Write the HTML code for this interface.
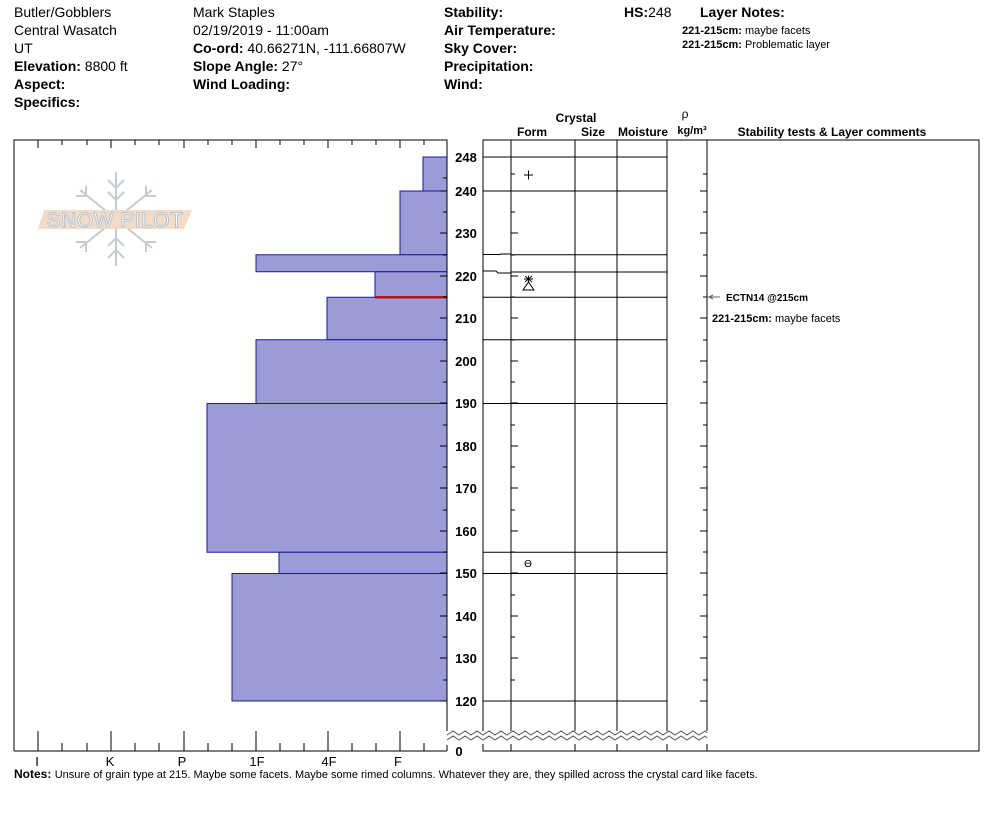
<!DOCTYPE html>
<html><head><meta charset="utf-8"><style>
body{margin:0;background:#fff;}
svg{display:block;font-family:"Liberation Sans",Arial,sans-serif;}
.b{font-weight:bold}
</style></head><body>
<svg width="994" height="840" viewBox="0 0 994 840" xmlns="http://www.w3.org/2000/svg">
<g font-size="14" fill="#000">
<text x="14" y="17">Butler/Gobblers</text>
<text x="14" y="35">Central Wasatch</text>
<text x="14" y="53">UT</text>
<text x="14" y="71"><tspan class="b">Elevation:</tspan> 8800 ft</text>
<text x="14" y="89" class="b">Aspect:</text>
<text x="14" y="107" class="b">Specifics:</text>
<text x="193" y="17">Mark Staples</text>
<text x="193" y="35">02/19/2019 - 11:00am</text>
<text x="193" y="53"><tspan class="b">Co-ord:</tspan> 40.66271N, -111.66807W</text>
<text x="193" y="71"><tspan class="b">Slope Angle:</tspan> 27°</text>
<text x="193" y="89" class="b">Wind Loading:</text>
<text x="444" y="17" class="b">Stability:</text>
<text x="444" y="35" class="b">Air Temperature:</text>
<text x="444" y="53" class="b">Sky Cover:</text>
<text x="444" y="71" class="b">Precipitation:</text>
<text x="444" y="89" class="b">Wind:</text>
<text x="624" y="17"><tspan class="b">HS:</tspan>248</text>
<text x="700" y="17" class="b">Layer Notes:</text>
</g>
<g font-size="11">
<text x="682" y="34"><tspan class="b">221-215cm:</tspan> maybe facets</text>
<text x="682" y="48"><tspan class="b">221-215cm:</tspan> Problematic layer</text>
</g>
<g font-size="12" font-weight="bold">
<text x="576" y="122" text-anchor="middle">Crystal</text>
<text x="532" y="136" text-anchor="middle">Form</text>
<text x="593" y="136" text-anchor="middle">Size</text>
<text x="643" y="136" text-anchor="middle">Moisture</text>
<text x="685" y="118" text-anchor="middle" font-weight="normal">ρ</text>
<text x="692" y="134" text-anchor="middle" font-size="11">kg/m³</text>
<text x="832" y="136" text-anchor="middle">Stability tests &amp; Layer comments</text>
</g>
<!-- logo -->
<g stroke="#c3ccd4" stroke-width="2" fill="none">
<line x1="116" y1="172" x2="116" y2="266"/>
<line x1="80" y1="190" x2="152" y2="248"/>
<line x1="152" y1="190" x2="80" y2="248"/>
<path d="M108 180 L116 188 L124 180 M108 192 L116 200 L124 192 M108 258 L116 250 L124 258 M108 246 L116 238 L124 246"/>
<path d="M86 196 l0 -10 M86 196 l-10 0 M146 196 l0 -10 M146 196 l10 0 M86 242 l0 10 M86 242 l-10 0 M146 242 l0 10 M146 242 l10 0"/>
</g>
<polygon points="44,210 192,210 184,229 38,229" fill="#f2dcc8"/>
<text x="115" y="227" text-anchor="middle" font-size="21" fill="#fff" stroke="#b8c2cc" stroke-width="1" letter-spacing="0.5">SNOW PILOT</text>
<!-- hardness bars -->
<g fill="#9b9bd6" stroke="#1a1aa0" stroke-width="1">
<rect x="423" y="157" width="24" height="34"/>
<rect x="400" y="191" width="47" height="63.75"/>
<rect x="256" y="254.75" width="191" height="17"/>
<rect x="375" y="271.75" width="72" height="25.5"/>
<rect x="327" y="297.25" width="120" height="42.5"/>
<rect x="256" y="339.75" width="191" height="63.75"/>
<rect x="207" y="403.5" width="240" height="148.75"/>
<rect x="279" y="552.25" width="168" height="21.25"/>
<rect x="232" y="573.5" width="215" height="127.5"/>
</g>
<line x1="375" y1="297.25" x2="447" y2="297.25" stroke="#b01818" stroke-width="2.5"/>
<!-- left box -->
<g stroke="#000" stroke-width="1" fill="none">
<path d="M14 751 L14 140 L447 140 L447 733 M440 751 L14 751 M447 745 L447 751"/>
<line x1="440" y1="751" x2="447" y2="751"/>
<path d="M38 140v8 M62 140v5 M87 140v5 M111 140v8 M135 140v5 M159 140v5 M184 140v8 M208 140v5 M232 140v5 M256 140v8 M280 140v5 M304 140v5 M328 140v8 M352 140v5 M376 140v5 M400 140v8 M424 140v5"/>
<path d="M38 751v-20 M62 751v-8 M87 751v-8 M111 751v-20 M135 751v-8 M159 751v-8 M184 751v-20 M208 751v-8 M232 751v-8 M256 751v-20 M280 751v-8 M304 751v-8 M328 751v-20 M352 751v-8 M376 751v-8 M400 751v-20 M424 751v-8"/>
<path d="M447 178h-4 M447 191h-7 M447 212h-4 M447 233h-7 M447 255h-4 M447 276h-7 M447 297h-4 M447 318h-7 M447 340h-4 M447 361h-7 M447 382h-4 M447 403h-7 M447 425h-4 M447 446h-7 M447 467h-4 M447 488h-7 M447 510h-4 M447 531h-7 M447 552h-4 M447 573h-7 M447 595h-4 M447 616h-7 M447 637h-4 M447 658h-7 M447 680h-4 M447 701h-7"/>
</g>
<g font-size="13" text-anchor="middle">
<text x="37" y="766">I</text><text x="110" y="766">K</text><text x="182" y="766">P</text>
<text x="257" y="766">1F</text><text x="329" y="766">4F</text><text x="398" y="766">F</text>
</g>
<!-- depth labels -->
<g font-size="13" font-weight="bold" text-anchor="middle">
<text x="466" y="162">248</text><text x="466" y="196">240</text><text x="466" y="238">230</text>
<text x="466" y="281">220</text><text x="466" y="323">210</text><text x="466" y="366">200</text>
<text x="466" y="408">190</text><text x="466" y="451">180</text><text x="466" y="493">170</text>
<text x="466" y="536">160</text><text x="466" y="578">150</text><text x="466" y="621">140</text>
<text x="466" y="663">130</text><text x="466" y="706">120</text><text x="459" y="756">0</text>
</g>
<!-- right grid -->
<g stroke="#000" stroke-width="1" fill="none">
<rect x="483" y="140" width="496" height="611"/>
<path d="M511 140V751 M575 140V751 M617 140V751 M667 140V751 M707 140V751"/>
<path d="M483 157H667 M483 191H667 M483 297.25H667 M483 339.75H667 M483 403.5H667 M483 552.25H667 M483 573.5H667 M483 701H667"/>
<path d="M511 254.75H667 M483 254.5H500 L501 254H511"/>
<path d="M511 272H667 M483 271H496 L498 273H511"/>
<path d="M511 174h4 M511 191h7 M511 212h4 M511 233h7 M511 255h4 M511 276h7 M511 297h4 M511 318h7 M511 340h4 M511 361h7 M511 382h4 M511 403h7 M511 425h4 M511 446h7 M511 467h4 M511 488h7 M511 510h4 M511 531h7 M511 552h4 M511 573h7 M511 595h4 M511 616h7 M511 637h4 M511 658h7 M511 680h4 M511 701h7"/>
<path d="M707 174h-4 M707 191h-7 M707 212h-4 M707 233h-7 M707 255h-4 M707 276h-7 M707 297h-4 M707 318h-7 M707 340h-4 M707 361h-7 M707 382h-4 M707 403h-7 M707 425h-4 M707 446h-7 M707 467h-4 M707 488h-7 M707 510h-4 M707 531h-7 M707 552h-4 M707 573h-7 M707 595h-4 M707 616h-7 M707 637h-4 M707 658h-7 M707 680h-4 M707 701h-7"/>
</g>
<!-- zigzag -->
<rect x="445" y="731" width="264" height="13" fill="#fff"/>
<polyline fill="none" stroke="#555" stroke-width="1" points="447,735 453,731 459,735 465,731 471,735 477,731 483,735 489,731 495,735 501,731 507,735 513,731 519,735 525,731 531,735 537,731 543,735 549,731 555,735 561,731 567,735 573,731 579,735 585,731 591,735 597,731 603,735 609,731 615,735 621,731 627,735 633,731 639,735 645,731 651,735 657,731 663,735 669,731 675,735 681,731 687,735 693,731 699,735 705,731 707,733"/>
<polyline fill="none" stroke="#555" stroke-width="1" points="447,740 453,736 459,740 465,736 471,740 477,736 483,740 489,736 495,740 501,736 507,740 513,736 519,740 525,736 531,740 537,736 543,740 549,736 555,740 561,736 567,740 573,736 579,740 585,736 591,740 597,736 603,740 609,736 615,740 621,736 627,740 633,736 639,740 645,736 651,740 657,736 663,740 669,736 675,740 681,736 687,740 693,736 699,740 705,736 707,738"/>
<!-- symbols -->
<path d="M524 175h9 M528.5 170.5v9" stroke="#000" stroke-width="1"/>
<path d="M523 290 L528.5 282 L534 290 Z" fill="none" stroke="#000" stroke-width="1"/>
<path d="M524 279 L533 279 M528.5 275.5 v7 M525 276 l7 6 M532 276 l-7 6" stroke="#000" stroke-width="0.9"/>
<text x="528" y="567" font-size="10" text-anchor="middle">ϴ</text>
<!-- comments -->
<path d="M707 297 L720 297 M709 297 l4 -2 M709 297 l4 2" stroke="#666" stroke-width="1" fill="none"/>
<text x="726" y="301" font-size="10" font-weight="bold">ECTN14 @215cm</text>
<text x="712" y="322" font-size="11"><tspan font-weight="bold">221-215cm:</tspan> maybe facets</text>
<text x="14" y="778" font-size="12"><tspan font-weight="bold">Notes:</tspan> <tspan font-size="11">Unsure of grain type at 215. Maybe some facets. Maybe some rimed columns. Whatever they are, they spilled across the crystal card like facets.</tspan></text>
</svg>
</body></html>
